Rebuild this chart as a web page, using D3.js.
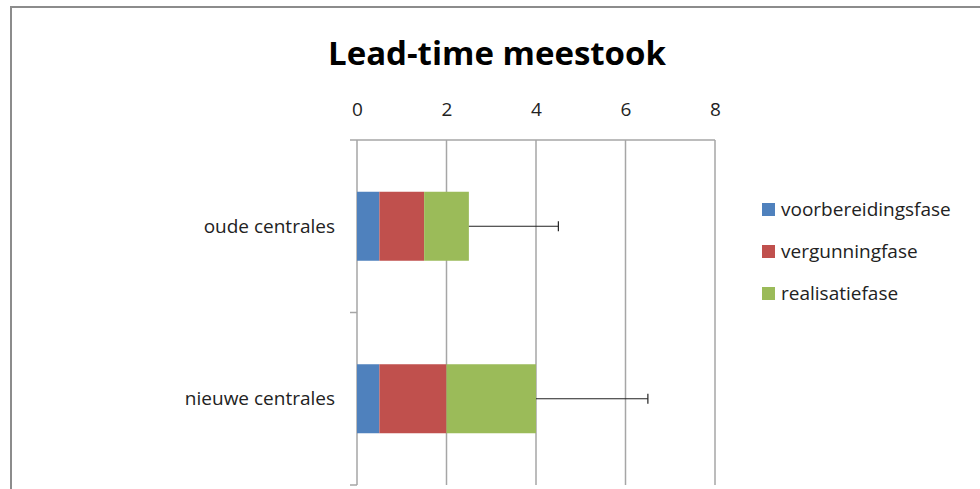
<!DOCTYPE html>
<html>
<head>
<meta charset="utf-8">
<script src="https://cdn.jsdelivr.net/npm/d3@7"></script>
<style>
    body { margin: 0; background: #fff; }
    text { font-family: "Open Sans", "Noto Sans", sans-serif; }
</style>
</head>
<body>
<div id="vis"></div>
<script>
// Chart data
var categories = ['oude centrales', 'nieuwe centrales'];
var phases = ['voorbereidingsfase', 'vergunningfase', 'realisatiefase'];
var phaseValues = {
    'voorbereidingsfase': [0.5, 0.5],
    'vergunningfase': [1.0, 1.5],
    'realisatiefase': [1.0, 2.0]
};
var errorPlus = [2.0, 2.5];
var xTicks = [0, 2, 4, 6, 8];
var colors = ['#4F81BD', '#C0504D', '#9BBB59'];

var width = 980;
var height = 489;

var margin = { left: 357, top: 140 };

var svg = d3.select('#vis')
    .append('svg')
    .attr('width', width)
    .attr('height', height);

// Outer chart border
svg.append('path')
    .attr('d', 'M11,' + height + ' L11,7 L' + width + ',7')
    .attr('fill', 'none')
    .attr('stroke', '#8c8c8c')
    .attr('stroke-width', 2);

// Title
svg.append('text')
    .attr('x', 497)
    .attr('y', 65)
    .attr('text-anchor', 'middle')
    .style('font-size', '33px')
    .style('font-weight', 'bold')
    .text('Lead-time meestook');

var g = svg.append('g')
    .attr('transform', 'translate(' + margin.left + ',' + margin.top + ')');

// Scales
var xScale = d3.scaleLinear().domain([0, 8]).range([0, 358]);
var yScale = d3.scaleBand().domain(categories).range([0, 345]);

// Gridlines
g.selectAll('.grid')
    .data(xTicks.slice(1))
    .enter().append('line')
    .attr('class', 'grid')
    .attr('x1', function(d) { return xScale(d); })
    .attr('x2', function(d) { return xScale(d); })
    .attr('y1', 0)
    .attr('y2', 345)
    .attr('stroke', '#a6a6a6')
    .attr('stroke-width', 1.5);

// Top axis
var xAxis = d3.axisTop(xScale).tickValues(xTicks).tickSize(0).tickPadding(24);
var xAxisG = g.append('g').call(xAxis);
xAxisG.select('.domain').remove();
xAxisG.selectAll('text')
    .style('font-size', '19px')
    .style('font-family', '"Open Sans", sans-serif')
    .attr('fill', '#222');
g.append('line')
    .attr('x1', -7).attr('x2', xScale(8))
    .attr('y1', 0).attr('y2', 0)
    .attr('stroke', '#a6a6a6').attr('stroke-width', 1.5);

// Left axis with ticks between categories
g.append('line')
    .attr('x1', 0).attr('x2', 0)
    .attr('y1', 0).attr('y2', 345)
    .attr('stroke', '#a6a6a6').attr('stroke-width', 1.5);
g.selectAll('.ytick')
    .data(categories)
    .enter().append('line')
    .attr('class', 'ytick')
    .attr('x1', -7).attr('x2', 0)
    .attr('y1', function(d) { return yScale(d) + yScale.bandwidth(); })
    .attr('y2', function(d) { return yScale(d) + yScale.bandwidth(); })
    .attr('stroke', '#a6a6a6').attr('stroke-width', 1.5);

g.selectAll('.ylabel')
    .data(categories)
    .enter().append('text')
    .attr('class', 'ylabel')
    .attr('x', -22)
    .attr('y', function(d) { return yScale(d) + yScale.bandwidth() / 2; })
    .attr('dy', '0.35em')
    .attr('text-anchor', 'end')
    .attr('fill', '#222')
    .style('font-size', '19px')
    .text(function(d) { return d; });

// Stacked bars
var rows = categories.map(function(c, i) {
    var row = { category: c };
    phases.forEach(function(p) { row[p] = phaseValues[p][i]; });
    return row;
});
var stack = d3.stack().keys(phases)(rows);
var barH = 69;

g.selectAll('.series')
    .data(stack)
    .enter().append('g')
    .attr('class', 'series')
    .attr('fill', function(d, i) { return colors[i]; })
    .selectAll('rect')
    .data(function(d) { return d; })
    .enter().append('rect')
    .attr('x', function(d) { return xScale(d[0]); })
    .attr('width', function(d) { return xScale(d[1]) - xScale(d[0]); })
    .attr('y', function(d) { return yScale(d.data.category) + (yScale.bandwidth() - barH) / 2; })
    .attr('height', barH);

// Error bars (plus direction)
var totals = rows.map(function(r) { return d3.sum(phases, function(p) { return r[p]; }); });
categories.forEach(function(c, i) {
    var cy = yScale(c) + yScale.bandwidth() / 2;
    var x0 = xScale(totals[i]);
    var x1 = xScale(totals[i] + errorPlus[i]);
    g.append('line')
        .attr('x1', x0).attr('x2', x1)
        .attr('y1', cy).attr('y2', cy)
        .attr('stroke', '#222').attr('stroke-width', 1);
    g.append('line')
        .attr('x1', x1).attr('x2', x1)
        .attr('y1', cy - 5).attr('y2', cy + 5)
        .attr('stroke', '#222').attr('stroke-width', 1.2);
});

// Legend
var legend = svg.append('g')
    .attr('transform', 'translate(762,209)');
var item = legend.selectAll('.item')
    .data(phases)
    .enter().append('g')
    .attr('class', 'item')
    .attr('transform', function(d, i) { return 'translate(0,' + (i * 42) + ')'; });
item.append('rect')
    .attr('x', 0).attr('y', -6)
    .attr('width', 13).attr('height', 13)
    .attr('fill', function(d, i) { return colors[i]; });
item.append('text')
    .attr('x', 19)
    .attr('y', 0)
    .attr('dy', '0.35em')
    .attr('fill', '#222')
    .style('font-size', '19px')
    .text(function(d) { return d; });
</script>
</body>
</html>
